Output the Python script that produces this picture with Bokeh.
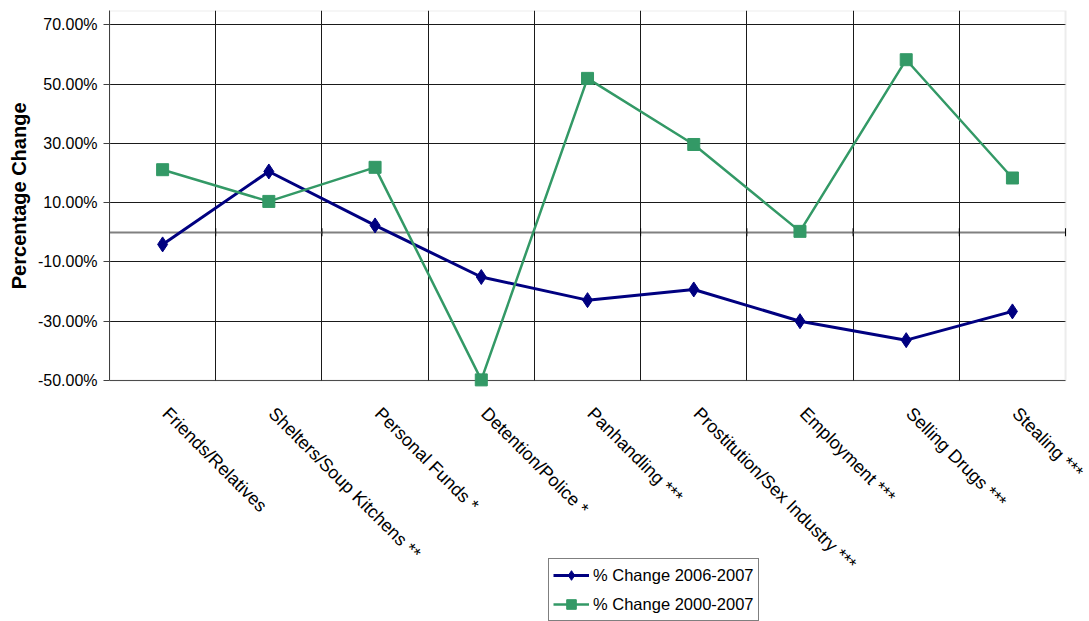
import math
from bokeh.plotting import figure
from bokeh.models import (Range1d, FixedTicker, PrintfTickFormatter, Grid,
                          BoxAnnotation, Legend, LegendItem, Title)
from bokeh.core.properties import value
from bokeh.embed import file_html
from bokeh.resources import INLINE

# ---- data ----
categories = ["Friends/Relatives", "Shelters/Soup Kitchens **", "Personal Funds *",
              "Detention/Police *", "Panhandling ***", "Prostitution/Sex Industry ***",
              "Employment ***", "Selling Drugs ***", "Stealing ***"]
change_2006_2007 = [-4.1, 20.5, 2.3, -15.1, -22.9, -19.3, -30.0, -36.4, -26.7]
change_2000_2007 = [21.1, 10.4, 21.9, -49.8, 51.9, 29.6, 0.3, 58.2, 18.3]
y_ticks = [-50, -30, -10, 10, 30, 50, 70]
series_names = ["% Change 2006-2007", "% Change 2000-2007"]
y_title = "Percentage Change"

n = len(categories)
xs = [i + 0.5 for i in range(n)]
boundaries = list(range(n + 1))
y_min, y_max = y_ticks[0], 74.8

FONT = "Liberation Sans"
NAVY = "#000080"
GREEN = "#339966"
GRID = "#1a1a1a"

# The frame spans to the bottom and right edges of the canvas so that the
# category labels and the legend outside the plot area are not clipped;
# the plot area itself is bounded by the box annotation / grid bounds.
p = figure(width=1089, height=621, output_backend="svg", toolbar_location=None,
           x_range=Range1d(0, n + 0.2255), y_range=Range1d(-131.3, y_max),
           x_axis_location=None,
           min_border_left=107, min_border_right=0, min_border_top=10,
           min_border_bottom=0, background_fill_color="white",
           border_fill_color="white")
p.outline_line_color = None
for g in p.xgrid:
    g.visible = False

# plot-area border
p.add_layout(BoxAnnotation(left=0, right=n, bottom=y_min, top=y_max,
                           fill_color=None, line_color="#c0c0c0", line_width=2,
                           level="underlay"))

# y axis
yax = p.yaxis[0]
yax.bounds = (y_min, y_max)
yax.ticker = FixedTicker(ticks=y_ticks)
yax.formatter = PrintfTickFormatter(format="%.2f%%")
yax.major_label_text_font = FONT
yax.major_label_text_font_size = "16px"
yax.major_label_text_color = "#000000"
yax.major_tick_in = 0
yax.major_tick_out = 6
yax.major_tick_line_color = "#404040"
yax.minor_tick_line_color = None
yax.axis_line_color = "#404040"
yax.major_label_standoff = 6

p.add_layout(Title(text=y_title, align="right", offset=92,
                   text_font=FONT, text_font_size="20px", text_font_style="bold",
                   text_color="#000000", standoff=10), "left")

# grids, limited to the plot area
p.ygrid.ticker = FixedTicker(ticks=y_ticks)
p.ygrid.grid_line_color = GRID
p.ygrid.grid_line_width = 1
p.ygrid.cross_bounds = (0, n)
p.add_layout(Grid(dimension=0, ticker=FixedTicker(ticks=boundaries[1:-1]),
                  cross_bounds=(y_min, y_max), grid_line_color=GRID,
                  grid_line_width=1))

# category axis line crossing at 0, with tick marks between categories
p.add_layout(Grid(dimension=1, ticker=FixedTicker(ticks=[0]),
                  cross_bounds=(0, n), grid_line_color="#808080",
                  grid_line_width=2))
p.scatter(boundaries, [0] * len(boundaries), marker="dash", angle=math.pi / 2,
          size=8, line_color="#000000", line_width=1)

# category labels below the plot area
p.text(x=xs, y=[y_min] * n, text=categories, angle=-math.pi / 4,
       text_align="left", text_baseline="middle", x_offset=3, y_offset=30,
       text_font=value(FONT), text_font_size="18px", text_color="#000000")

# series
l1 = p.line(xs, change_2006_2007, line_color=NAVY, line_width=3)
s1 = p.scatter(xs, change_2006_2007, marker="diamond", size=15,
               fill_color=NAVY, line_color=NAVY)
l2 = p.line(xs, change_2000_2007, line_color=GREEN, line_width=2.5)
s2 = p.scatter(xs, change_2000_2007, marker="square", size=12,
               fill_color=GREEN, line_color=GREEN)

legend = Legend(items=[LegendItem(label=series_names[0], renderers=[l1, s1]),
                       LegendItem(label=series_names[1], renderers=[l2, s2])],
                location=(439, 0), orientation="vertical",
                border_line_color="#000000", border_line_width=1,
                background_fill_color="white", background_fill_alpha=1,
                label_text_font=FONT, label_text_font_size="16.5px",
                label_text_color="#000000",
                glyph_width=36, glyph_height=24, label_height=24,
                spacing=5, padding=4, label_standoff=4, margin=0)
p.add_layout(legend)

open("out.html", "w").write(file_html(p, INLINE))
